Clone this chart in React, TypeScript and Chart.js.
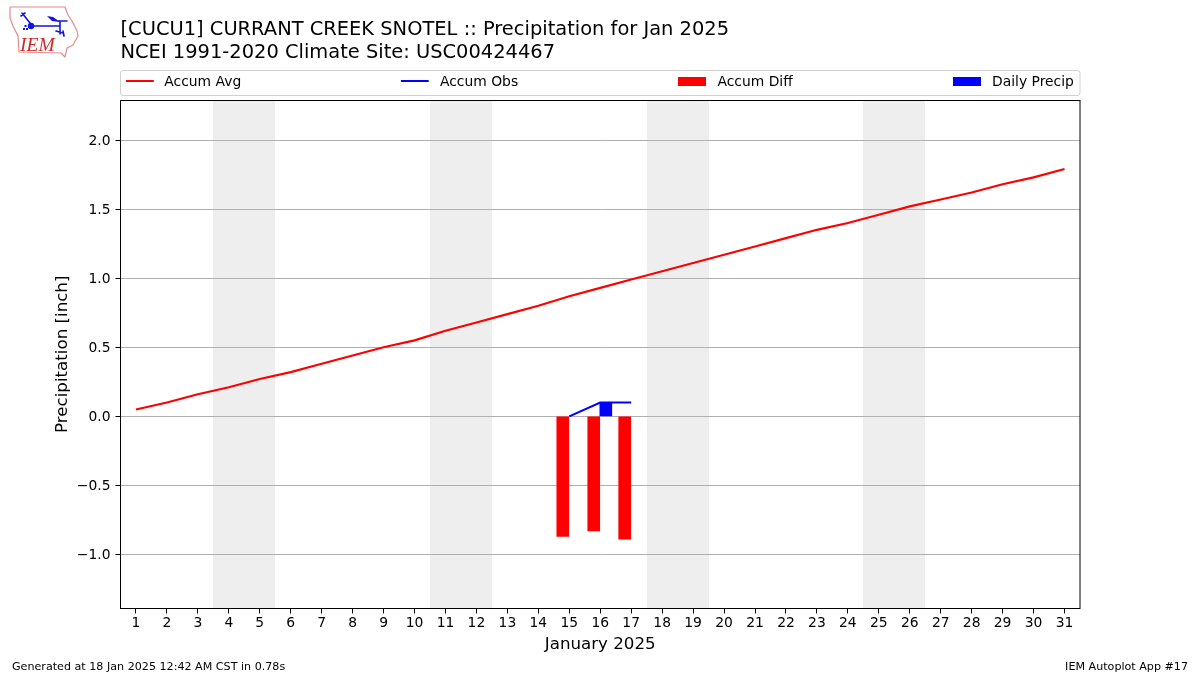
import React, { useEffect, useRef } from "react";
import { Chart, registerables } from "chart.js";

Chart.register(...registerables);

const FONT = '"DejaVu Sans"';
const days = [1,2,3,4,5,6,7,8,9,10,11,12,13,14,15,16,17,18,19,20,21,22,23,24,25,26,27,28,29,30,31];
const accumAvg = [0.05,0.10,0.16,0.21,0.27,0.32,0.38,0.44,0.50,0.55,0.62,0.68,0.74,0.80,0.87,0.93,0.99,1.05,1.11,1.17,1.23,1.29,1.35,1.40,1.46,1.52,1.57,1.62,1.68,1.73,1.79];
const obsDays = [15,16,17];
const accumObs = [0.0,0.10,0.10];
const accumDiff = [-0.87,-0.83,-0.89];
const precipDays = [16];
const dailyPrecip = [0.10];
const yTicks = [-1.0,-0.5,0.0,0.5,1.0,1.5,2.0];
const weekendBands = [[3.5,5.5],[10.5,12.5],[17.5,19.5],[24.5,26.5]];
const titleLines = ["[CUCU1] CURRANT CREEK SNOTEL :: Precipitation for Jan 2025","NCEI 1991-2020 Climate Site: USC00424467"];
const xTitle = "January 2025";
const yTitle = "Precipitation [inch]";
const footerLeft = "Generated at 18 Jan 2025 12:42 AM CST in 0.78s";
const footerRight = "IEM Autoplot App #17";

const backgroundPlugin = {
  id: "bands",
  beforeDraw(chart: any) {
    const { ctx, chartArea: a, scales } = chart;
    ctx.save();
    ctx.fillStyle = "#ffffff";
    ctx.fillRect(0, 0, chart.width, chart.height);
    ctx.fillStyle = "#eeeeee";
    for (const [s, e] of weekendBands) {
      const x0 = Math.round(scales.x.getPixelForValue(s));
      const x1 = Math.round(scales.x.getPixelForValue(e));
      ctx.fillRect(x0, a.top, x1 - x0, a.bottom - a.top);
    }
    ctx.restore();
  },
};

function drawLogo(ctx: CanvasRenderingContext2D) {
  ctx.save();
  ctx.translate(5, 3);
  ctx.lineJoin = "round";
  ctx.lineCap = "round";
  ctx.strokeStyle = "#e58a8a";
  ctx.lineWidth = 1.2;
  ctx.beginPath();
  const o = [[5,4],[60,4],[63,12],[67,18],[72,28],[73,33],[68,42],[62,45],[60,54],[56,50],[14,49],[13,33],[8,23],[5,15]];
  o.forEach(([x, y], i) => (i ? ctx.lineTo(x, y) : ctx.moveTo(x, y)));
  ctx.closePath();
  ctx.stroke();
  ctx.strokeStyle = "#1414dc";
  ctx.fillStyle = "#1414dc";
  ctx.lineWidth = 1.6;
  ctx.beginPath();
  ctx.moveTo(26, 23); ctx.lineTo(55, 23);
  ctx.moveTo(55, 19); ctx.lineTo(55, 31);
  ctx.moveTo(53, 18); ctx.lineTo(62, 18);
  ctx.moveTo(17, 10); ctx.lineTo(25, 20);
  ctx.moveTo(16, 13); ctx.lineTo(20, 10);
  ctx.moveTo(51, 28); ctx.lineTo(58, 30);
  ctx.moveTo(58, 28); ctx.lineTo(59, 33);
  ctx.stroke();
  ctx.beginPath(); ctx.arc(26, 23, 3.2, 0, Math.PI * 2); ctx.fill();
  ctx.beginPath(); ctx.moveTo(42, 13); ctx.lineTo(48, 14); ctx.lineTo(55, 19); ctx.lineTo(47, 18); ctx.closePath(); ctx.fill();
  ctx.fillRect(18, 25, 2, 2); ctx.fillRect(21, 25, 2, 2); ctx.fillRect(19.5, 22, 2, 2);
  ctx.fillStyle = "#d02828";
  ctx.font = 'italic 19.5px "Liberation Serif"';
  ctx.textAlign = "left";
  ctx.textBaseline = "alphabetic";
  ctx.fillText("IEM", 15, 48);
  ctx.restore();
}

const decorPlugin = {
  id: "decor",
  afterDraw(chart: any) {
    const { ctx, chartArea: a, data } = chart;
    ctx.save();
    // axes frame
    ctx.strokeStyle = "#000000";
    ctx.lineWidth = 1;
    const top = Math.round(a.top) + 0.5;
    const bottom = Math.floor(a.bottom) + 0.5;
    ctx.strokeRect(a.left, top, a.right - a.left, bottom - top);

    // legend, spread across the axes width with equal gaps
    const L = a.left, R = a.right, T = 70.5, B = 95.5;
    ctx.strokeStyle = "#d0d0d0";
    ctx.beginPath();
    ctx.roundRect(L, T, R - L, B - T, 2.5);
    ctx.stroke();
    ctx.font = `13.89px ${FONT}`;
    ctx.textBaseline = "alphabetic";
    ctx.textAlign = "left";
    const handle = 27.8, gapText = 10.5, pad = 5.5;
    const order = data.datasets;
    const widths = order.map((d: any) => handle + gapText + ctx.measureText(d.label).width);
    const total = widths.reduce((p: number, c: number) => p + c, 0);
    const gap = (R - L - 2 * pad - total) / (order.length - 1);
    let x = L + pad;
    order.forEach((d: any, i: number) => {
      const hx = i === 0 ? x : x - 1.3;
      if (d.type === "line") {
        ctx.strokeStyle = d.borderColor;
        ctx.lineWidth = 2;
        ctx.beginPath();
        ctx.moveTo(hx, 81);
        ctx.lineTo(hx + handle, 81);
        ctx.stroke();
      } else {
        ctx.fillStyle = d.backgroundColor;
        ctx.fillRect(Math.round(hx), 77, Math.round(handle), 9);
      }
      ctx.fillStyle = "#000000";
      ctx.fillText(d.label, x + handle + gapText - (i === 0 ? 0 : 0.6), 86);
      x += widths[i] + gap;
    });

    // footers
    ctx.fillStyle = "#000000";
    ctx.font = `11.13px ${FONT}`;
    ctx.textAlign = "left";
    ctx.fillText(footerLeft, 12, 670);
    ctx.textAlign = "right";
    ctx.fillText(footerRight, 1188, 670);

    drawLogo(ctx);
    ctx.restore();
  },
};

export default function App() {
  const ref = useRef<HTMLCanvasElement>(null);
  useEffect(() => {
    document.body.style.margin = "0";
    const chart = new Chart(ref.current as HTMLCanvasElement, {
      type: "bar",
      data: {
        datasets: [
          {
            type: "line",
            label: "Accum Avg",
            data: days.map((d, i) => ({ x: d, y: accumAvg[i] })),
            borderColor: "#ff0000",
            borderWidth: 2.1,
            pointRadius: 0,
            tension: 0,
            order: 1,
          },
          {
            type: "line",
            label: "Accum Obs",
            data: obsDays.map((d, i) => ({ x: d, y: accumObs[i] })),
            borderColor: "#0000ff",
            borderWidth: 2.1,
            pointRadius: 0,
            tension: 0,
            order: 2,
          },
          {
            type: "bar",
            label: "Accum Diff",
            data: obsDays.map((d, i) => ({ x: d - 0.21, y: accumDiff[i] })),
            backgroundColor: "#ff0000",
            borderWidth: 0,
            barThickness: 12,
            grouped: false,
            order: 3,
          },
          {
            type: "bar",
            label: "Daily Precip",
            data: precipDays.map((d, i) => ({ x: d + 0.18, y: dailyPrecip[i] })),
            backgroundColor: "#0000ff",
            borderWidth: 0,
            barThickness: 12,
            grouped: false,
            order: 4,
          },
        ] as any,
      },
      options: {
        responsive: false,
        animation: false,
        devicePixelRatio: 1,
        layout: { padding: { left: 53, right: 120, top: 0, bottom: 20.5 } },
        font: { family: FONT },
        plugins: {
          legend: { display: false },
          tooltip: { enabled: false },
          title: {
            display: true,
            text: titleLines,
            align: "start",
            fullSize: false,
            color: "#000000",
            font: { family: FONT, size: 19.44, weight: "normal", lineHeight: 1.2 },
            padding: { top: 18, bottom: 35.34 },
          },
        },
        scales: {
          x: {
            type: "linear",
            min: 0.5,
            max: 31.5,
            offset: false,
            afterBuildTicks: (s: any) => { s.ticks = days.map((v) => ({ value: v })); },
            afterFit: (s: any) => { s.height = 46; },
            grid: { display: true, drawOnChartArea: false, drawTicks: true, tickLength: 5, tickColor: "#000000", offset: false },
            border: { display: false },
            ticks: {
              color: "#000000",
              font: { family: FONT, size: 13.89 },
              autoSkip: false,
              maxRotation: 0,
              padding: 2,
              callback: (v: any) => String(v),
            },
            title: {
              display: true,
              text: xTitle,
              color: "#000000",
              font: { family: FONT, size: 16.67 },
              padding: { top: 5, bottom: 0 },
            },
          },
          y: {
            type: "linear",
            min: -1.391,
            max: 2.29,
            afterBuildTicks: (s: any) => { s.ticks = yTicks.map((v) => ({ value: v })); },
            afterFit: (s: any) => { s.width = 67.5; },
            grid: { color: "#b0b0b0", lineWidth: 1, tickLength: 5, tickColor: "#000000", drawTicks: true },
            border: { display: false },
            ticks: {
              color: "#000000",
              font: { family: FONT, size: 13.89 },
              padding: 5,
              labelOffset: 1,
              callback: (v: any) => Number(v).toFixed(1).replace("-", "\u2212"),
            },
            title: {
              display: true,
              text: yTitle,
              color: "#000000",
              font: { family: FONT, size: 16.67 },
              padding: { top: 0, bottom: 0 },
            },
          },
        },
      } as any,
      plugins: [backgroundPlugin, decorPlugin],
    });
    return () => chart.destroy();
  }, []);
  return <canvas ref={ref} width={1200} height={675} style={{ display: "block" }} />;
}
